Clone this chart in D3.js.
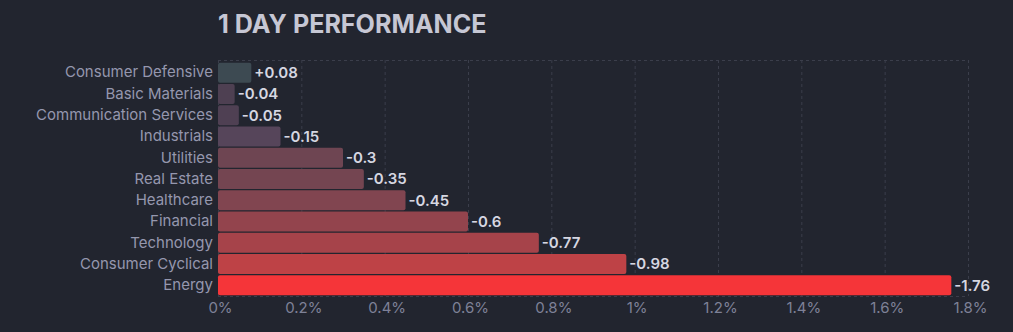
<!DOCTYPE html>
<html>
<head>
<meta charset="utf-8">
<script src="https://cdn.jsdelivr.net/npm/d3@7"></script>
<style>
  html, body { margin: 0; padding: 0; background: #22252f; }
  svg { display: block; }
</style>
</head>
<body>
<svg id="chart" width="1013" height="332"></svg>
<script>
// Sector one-day performance (percent)
const sectors = [
  "Consumer Defensive", "Basic Materials", "Communication Services", "Industrials",
  "Utilities", "Real Estate", "Healthcare", "Financial", "Technology",
  "Consumer Cyclical", "Energy"
];
const changes = [0.08, -0.04, -0.05, -0.15, -0.3, -0.35, -0.45, -0.6, -0.77, -0.98, -1.76];
const tickValues = [0, 0.2, 0.4, 0.6, 0.8, 1, 1.2, 1.4, 1.6, 1.8];
const title = "1 DAY PERFORMANCE";

const svg = d3.select("#chart");
const margin = { top: 60, left: 218 };
const innerW = 968 - margin.left;
const innerH = 296 - margin.top;
const font = "Inter, 'Noto Sans', sans-serif";

const rows = sectors.map((s, i) => ({ sector: s, value: changes[i] }));

const x = d3.scaleLinear().domain([0, 1.8]).range([0, innerW]);
const y = d3.scaleBand().domain(sectors).range([2, innerH]).paddingInner(0.06).paddingOuter(0.03);

// Positive moves in slate, losses shading from muted plum to bright red
const lossColor = d3.scaleLinear()
  .domain([0, -0.15, -0.3, -0.6, -1.0, -1.76])
  .range(["#4b3e4f", "#56455a", "#6e4552", "#93444d", "#c04246", "#f53539"])
  .clamp(true);
const colorOf = v => v >= 0 ? "#3d4a52" : lossColor(v);

svg.append("text")
  .attr("x", margin.left)
  .attr("y", 33)
  .attr("fill", "#c6c7d4")
  .attr("font-family", font)
  .attr("font-weight", 700)
  .attr("font-size", 25.1)
  .text(title);

const g = svg.append("g").attr("transform", `translate(${margin.left},${margin.top})`);

// Dashed grid
const gridColor = "#3b3e4b";
g.selectAll("line.vgrid")
  .data(tickValues)
  .join("line")
  .attr("class", "vgrid")
  .attr("x1", d => x(d) + 0.5).attr("x2", d => x(d) + 0.5)
  .attr("y1", 0).attr("y2", innerH)
  .attr("stroke", gridColor).attr("stroke-width", 1).attr("stroke-dasharray", "3,3");
[0, innerH].forEach(yy => {
  g.append("line")
    .attr("x1", 0).attr("x2", innerW)
    .attr("y1", yy + 0.5).attr("y2", yy + 0.5)
    .attr("stroke", gridColor).attr("stroke-width", 1).attr("stroke-dasharray", "3,3");
});

// Bars (length = magnitude of the move)
g.selectAll("rect.bar")
  .data(rows)
  .join("rect")
  .attr("class", "bar")
  .attr("x", 0)
  .attr("y", d => y(d.sector))
  .attr("width", d => x(Math.abs(d.value)))
  .attr("height", y.bandwidth())
  .attr("rx", 2).attr("ry", 2)
  .attr("fill", d => colorOf(d.value));

// Value labels
const fmt = v => (v > 0 ? "+" : "") + v;
g.selectAll("text.val")
  .data(rows)
  .join("text")
  .attr("class", "val")
  .attr("x", d => x(Math.abs(d.value)) + 3)
  .attr("y", d => y(d.sector) + y.bandwidth() / 2)
  .attr("dy", "0.36em")
  .attr("fill", "#d6d7e1")
  .attr("font-family", font)
  .attr("font-weight", 600)
  .attr("font-size", 15)
  .text(d => fmt(d.value));

// Category axis
const yAxis = g.append("g").call(d3.axisLeft(y).tickSize(0).tickPadding(5));
yAxis.select(".domain").remove();
yAxis.selectAll("text")
  .attr("fill", "#9597ae")
  .attr("font-family", font)
  .attr("font-size", 15);

// Percent axis
const xAxis = g.append("g")
  .attr("transform", `translate(0,${innerH})`)
  .call(d3.axisBottom(x).tickValues(tickValues).tickSize(0).tickPadding(6)
    .tickFormat(d => d3.format("~g")(d) + "%"));
xAxis.select(".domain").remove();
xAxis.selectAll("text")
  .attr("dx", 2)
  .attr("fill", "#7e8197")
  .attr("font-family", font)
  .attr("font-size", 15);
</script>
</body>
</html>
